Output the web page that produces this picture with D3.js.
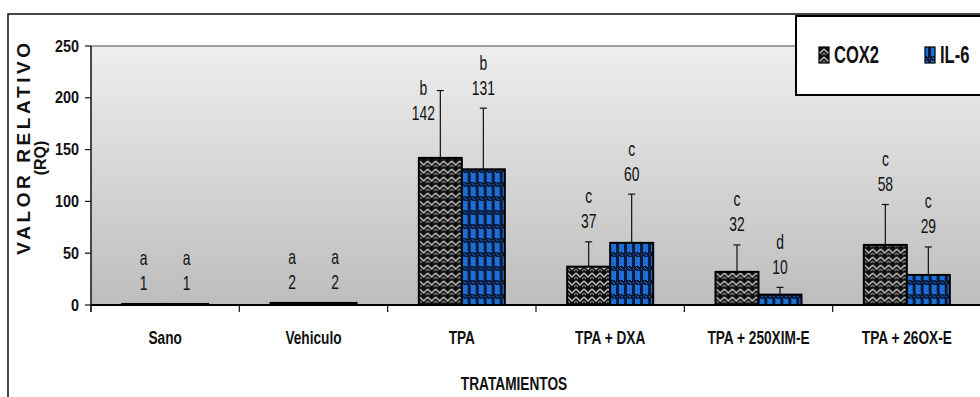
<!DOCTYPE html>
<html>
<head>
<meta charset="utf-8">
<script src="https://cdn.jsdelivr.net/npm/d3@7/dist/d3.min.js"></script>
<style>
  html, body { margin: 0; padding: 0; background: #ffffff; }
  svg { display: block; }
  text { font-family: "Liberation Sans", Arial, sans-serif; fill: #111; }
</style>
</head>
<body>
<svg id="chart" width="980" height="397"></svg>
<script>
// Treatments and measured relative expression (RQ)
const categories = ["Sano", "Vehiculo", "TPA", "TPA + DXA", "TPA + 250XIM-E", "TPA + 26OX-E"];
const seriesNames = ["COX2", "IL-6"];
const cox2Values = [1, 2, 142, 37, 32, 58];
const il6Values = [1, 2, 131, 60, 10, 29];
// upper error bars (standard deviation)
const cox2Errors = [0, 0, 65, 24, 26, 39];
const il6Errors = [0, 0, 59, 47, 7, 27];
// statistical grouping letters
const cox2Letters = ["a", "a", "b", "c", "c", "c"];
const il6Letters = ["a", "a", "b", "c", "d", "c"];
const yTicks = [0, 50, 100, 150, 200, 250];

const svg = d3.select("#chart");
const W = 980, H = 397;
const plot = { left: 91, top: 46, right: 981, bottom: 305 };

const x0 = d3.scaleBand().domain(categories).range([plot.left, plot.right]).paddingInner(0).paddingOuter(0);
const x1 = d3.scaleBand().domain(seriesNames).range([0, x0.bandwidth()]).paddingInner(0).paddingOuter(0.725);
const y = d3.scaleLinear().domain([0, 250]).range([plot.bottom, plot.top]);

const rows = categories.map((c, i) => ({
  cat: c,
  bars: [
    { s: "COX2", v: cox2Values[i], e: cox2Errors[i], l: cox2Letters[i] },
    { s: "IL-6", v: il6Values[i], e: il6Errors[i], l: il6Letters[i] }
  ]
}));

// ---- defs: background gradient and bar fills ----
const defs = svg.append("defs");
const grad = defs.append("linearGradient").attr("id", "plotBg").attr("x1", 0).attr("y1", 0).attr("x2", 0).attr("y2", 1);
grad.append("stop").attr("offset", "0%").attr("stop-color", "#eeeeee");
grad.append("stop").attr("offset", "100%").attr("stop-color", "#bdbdbd");

const pc = defs.append("pattern").attr("id", "patCox").attr("patternUnits", "userSpaceOnUse")
  .attr("width", 8).attr("height", 8);
pc.append("rect").attr("width", 8).attr("height", 8).attr("fill", "#0d0d0d");
pc.append("path").attr("d", "M0,1 L4,5 L8,1").attr("fill", "none").attr("stroke", "#c9c9c9").attr("stroke-width", 1.3);
pc.append("path").attr("d", "M0,5 L2,7 M6,7 L8,5").attr("fill", "none").attr("stroke", "#8a8a8a").attr("stroke-width", 1.1);

const pi = defs.append("pattern").attr("id", "patIl6").attr("patternUnits", "userSpaceOnUse")
  .attr("width", 8).attr("height", 14);
pi.append("rect").attr("width", 8).attr("height", 14).attr("fill", "#1b6fd6");
pi.append("rect").attr("x", 0).attr("y", 0).attr("width", 3).attr("height", 14).attr("fill", "#0a1a38");
pi.append("rect").attr("x", 0).attr("y", 0).attr("width", 8).attr("height", 5).attr("fill", "#0a1a38");
[[4, 1], [6, 3], [1, 2], [5, 2], [3, 4], [7, 0]].forEach(([a, b]) =>
  pi.append("rect").attr("x", a).attr("y", b).attr("width", 1).attr("height", 1).attr("fill", "#1b6fd6"));

const fillFor = s => s === "COX2" ? "url(#patCox)" : "url(#patIl6)";

// ---- helper for horizontally condensed text ----
function ctext(parent, x, yy, str, o) {
  return parent.append("text")
    .attr("transform", `translate(${x},${yy}) scale(${o.sx || 1},1)`)
    .attr("text-anchor", o.anchor || "middle")
    .attr("dy", "0.35em")
    .style("font-size", o.size + "px")
    .style("font-weight", o.weight || "normal")
    .text(str);
}

// ---- outer frame ----
svg.append("rect").attr("x", 8).attr("y", 14).attr("width", 1000).attr("height", 420)
  .attr("fill", "#ffffff").attr("stroke", "#1a1a1a").attr("stroke-width", 1.6);

// ---- plot area ----
svg.append("rect").attr("x", plot.left).attr("y", plot.top)
  .attr("width", plot.right - plot.left + 5).attr("height", plot.bottom - plot.top)
  .attr("fill", "url(#plotBg)").attr("stroke", "#4a4a4a").attr("stroke-width", 1);

// ---- bars ----
const groups = svg.append("g").selectAll("g").data(rows).join("g")
  .attr("transform", d => `translate(${x0(d.cat)},0)`);

groups.selectAll("rect").data(d => d.bars).join("rect")
  .attr("x", d => x1(d.s))
  .attr("y", d => y(d.v))
  .attr("width", x1.bandwidth())
  .attr("height", d => y(0) - y(d.v))
  .attr("fill", d => fillFor(d.s))
  .attr("stroke", "#000").attr("stroke-width", 2);

// ---- error bars (upper) ----
groups.each(function (d) {
  const g = d3.select(this);
  d.bars.filter(b => b.e > 0).forEach(b => {
    const cx = x1(b.s) + x1.bandwidth() / 2;
    g.append("line").attr("x1", cx).attr("x2", cx).attr("y1", y(b.v)).attr("y2", y(b.v + b.e))
      .attr("stroke", "#111").attr("stroke-width", 1.2);
    g.append("line").attr("x1", cx - 3.5).attr("x2", cx + 3.5).attr("y1", y(b.v + b.e)).attr("y2", y(b.v + b.e))
      .attr("stroke", "#111").attr("stroke-width", 1.2);
  });
});

// ---- value and letter labels ----
// the TPA COX2 label sits beside its whisker so it does not overlap the IL-6 label
const labelNudge = { "TPA|COX2": { dx: -17, dy: 43 } };
groups.each(function (d) {
  const g = d3.select(this);
  d.bars.forEach(b => {
    const n = labelNudge[d.cat + "|" + b.s] || { dx: 0, dy: 0 };
    const cx = x1(b.s) + x1.bandwidth() / 2 + n.dx;
    const top = y(b.v + b.e) - 21 + n.dy;
    ctext(g, cx, top, String(b.v), { size: 21, sx: 0.66 });
    ctext(g, cx, top - 25, b.l, { size: 21, sx: 0.66 });
  });
});

// ---- axes ----
const axG = svg.append("g");
axG.append("line").attr("x1", plot.left).attr("x2", plot.left).attr("y1", plot.top).attr("y2", plot.bottom + 7)
  .attr("stroke", "#111").attr("stroke-width", 1.2);
yTicks.forEach(t => {
  axG.append("line").attr("x1", plot.left - 6).attr("x2", plot.left).attr("y1", y(t)).attr("y2", y(t))
    .attr("stroke", "#111").attr("stroke-width", 1.2);
  ctext(axG, plot.left - 12, y(t), String(t), { size: 16, weight: "bold", sx: 0.9, anchor: "end" });
});
axG.append("line").attr("x1", plot.left).attr("x2", plot.right).attr("y1", plot.bottom).attr("y2", plot.bottom)
  .attr("stroke", "#000").attr("stroke-width", 2);
categories.forEach((c, i) => {
  const bx = x0(c);
  axG.append("line").attr("x1", bx).attr("x2", bx).attr("y1", plot.bottom).attr("y2", plot.bottom + 7)
    .attr("stroke", "#111").attr("stroke-width", 1.2);
  ctext(axG, bx + x0.bandwidth() / 2, 337, c, { size: 19, weight: "bold", sx: 0.72 });
});

// axis titles
ctext(svg, 514, 383, "TRATAMIENTOS", { size: 19, weight: "bold", sx: 0.72 });
svg.append("text").attr("transform", "translate(23,147) rotate(-90)")
  .attr("text-anchor", "middle").attr("dy", "0.35em")
  .style("font-size", "19px").style("font-weight", "bold").style("letter-spacing", "3.6px")
  .text("VALOR RELATIVO");
svg.append("text").attr("transform", "translate(40,158) rotate(-90)")
  .attr("text-anchor", "middle").attr("dy", "0.35em")
  .style("font-size", "16px").style("font-weight", "bold")
  .text("(RQ)");

// ---- legend ----
const lg = svg.append("g");
lg.append("rect").attr("x", 796).attr("y", 16).attr("width", 200).attr("height", 79)
  .attr("fill", "#ffffff").attr("stroke", "#000").attr("stroke-width", 2);
const legendX = [819, 925];
seriesNames.forEach((s, i) => {
  lg.append("rect").attr("x", legendX[i]).attr("y", 47).attr("width", 10).attr("height", 16)
    .attr("fill", fillFor(s)).attr("stroke", "#000").attr("stroke-width", 1.2);
  ctext(lg, legendX[i] + 15, 55, s, { size: 24, weight: "bold", sx: 0.69, anchor: "start" });
});
</script>
</body>
</html>
